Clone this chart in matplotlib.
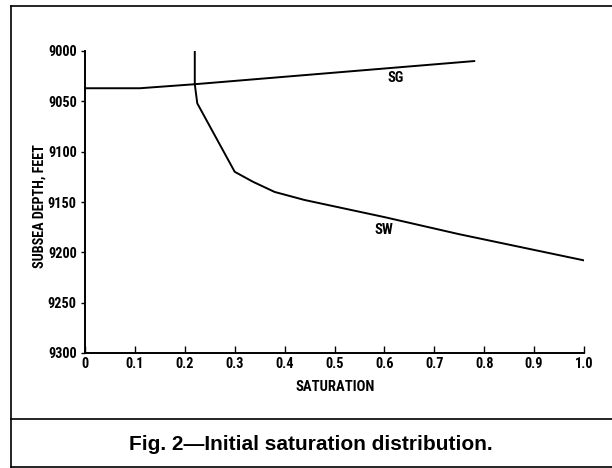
import matplotlib.pyplot as plt
from matplotlib.lines import Line2D
from matplotlib import font_manager
import numpy as np

sg_sat = [0.0, 0.11, 0.22, 0.78]
sg_depth = [9037, 9037, 9033, 9010]

sw_sat = [0.22, 0.22, 0.225, 0.30, 0.337, 0.38, 0.44, 0.60, 0.75, 1.0]
sw_depth = [9000, 9033, 9052, 9120, 9130, 9140, 9148, 9165, 9182, 9208]

x_ticks = [0, 0.1, 0.2, 0.3, 0.4, 0.5, 0.6, 0.7, 0.8, 0.9, 1.0]
x_labels = ['0', '0.1', '0.2', '0.3', '0.4', '0.5', '0.6', '0.7', '0.8', '0.9', '1.0']
y_ticks = [9000, 9050, 9100, 9150, 9200, 9250, 9300]

# look for a narrow bold face, the scan uses a condensed type
narrow_file = None
for f in font_manager.fontManager.ttflist:
    n = (f.name + ' ' + f.fname).lower()
    if ('narrow' in n or 'condensed' in n) and f.weight in (700, 'bold'):
        narrow_file = f.fname
        if 'liberation' in n or 'roboto' in n:
            break

def nprop(size):
    if narrow_file:
        return font_manager.FontProperties(fname=narrow_file, size=size)
    return font_manager.FontProperties(family='DejaVu Sans', weight='bold',
                                       stretch='condensed', size=size * 0.85)

fig = plt.figure(figsize=(6.12, 4.68), dpi=100)
ax = fig.add_axes([85/612, 1-353/468, 499/612, 302/468])

ax.plot(sg_sat, sg_depth, color='black', lw=1.4)
ax.plot(sw_sat, sw_depth, color='black', lw=1.4)

ax.set_xlim(0, 1.0)
ax.set_ylim(9300, 9000)
ax.set_xticks(x_ticks)
ax.set_xticklabels(x_labels)
ax.set_yticks(y_ticks)

for s in ['top', 'right']:
    ax.spines[s].set_visible(False)
for s in ['left', 'bottom']:
    ax.spines[s].set_linewidth(1.4)

ax.tick_params(axis='x', direction='in', length=5, width=1, pad=3)
ax.tick_params(axis='y', direction='out', length=3, width=1, pad=3)
for lab in ax.get_xticklabels() + ax.get_yticklabels():
    lab.set_fontproperties(nprop(10.3))

ax.text(0.623, 9027, 'SG', fontproperties=nprop(10.5), ha='center', va='center')
ax.text(0.60, 9178, 'SW', fontproperties=nprop(10.5), ha='center', va='center')

fig.text(335/612, 1-387/468, 'SATURATION', fontproperties=nprop(10.5),
         ha='center', va='center')
fig.text(40/612, 1-206/468, 'SUBSEA DEPTH, FEET', fontproperties=nprop(10.2),
         ha='center', va='center', rotation=90)

fig.text(311/612, 1-444/468, 'Fig. 2\u2014Initial saturation distribution.',
         family=['Liberation Sans', 'DejaVu Sans'], fontweight='bold',
         fontsize=15, ha='center', va='center')

# frame round the figure and the caption
def fline(x0, y0, x1, y1):
    fig.add_artist(Line2D([x0/612, x1/612], [1-y0/468, 1-y1/468],
                          color='black', lw=1.2, transform=fig.transFigure))

fline(11, 6, 612, 6)
fline(11, 6, 11, 467)
fline(11, 419, 612, 419)
fline(11, 467, 612, 467)

fig.savefig('out.png', dpi=100)
